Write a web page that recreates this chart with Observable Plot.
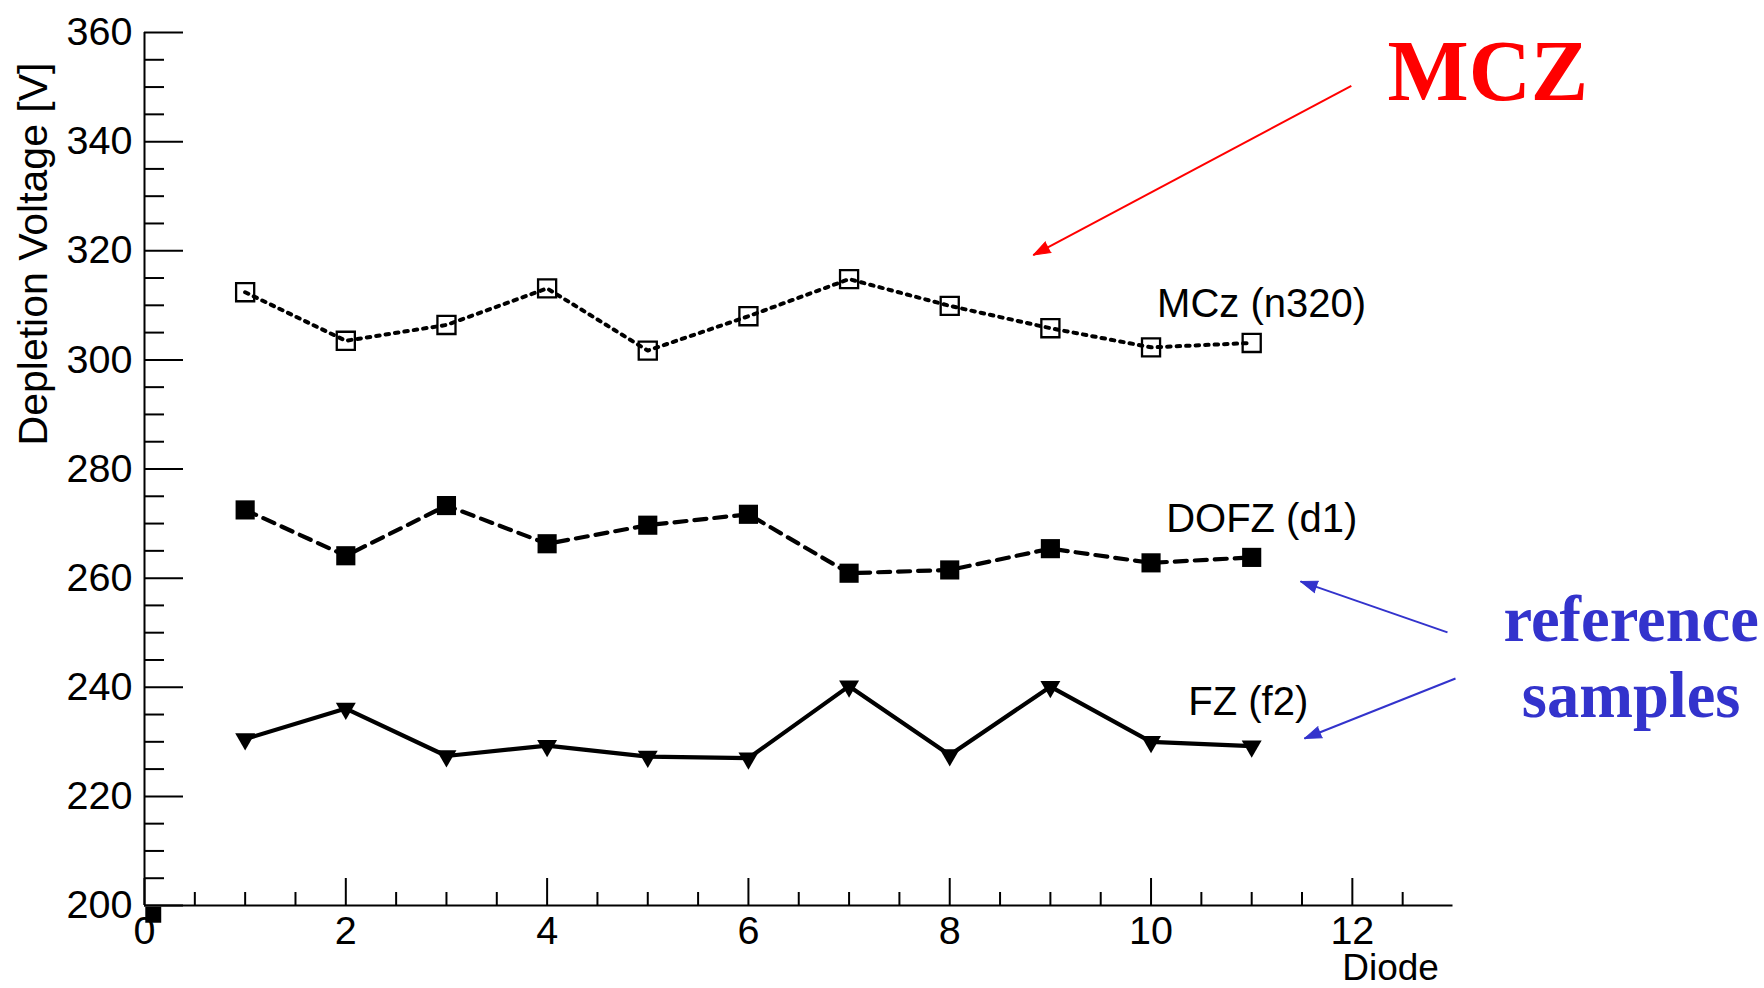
<!DOCTYPE html>
<html>
<head>
<meta charset="utf-8">
<script src="https://cdn.jsdelivr.net/npm/d3@7"></script>
<script src="https://cdn.jsdelivr.net/npm/@observablehq/plot@0.6"></script>
<style>
  html, body { margin: 0; padding: 0; background: #ffffff; }
  svg { display: block; }
</style>
</head>
<body>
<div id="chart"></div>
<script>
// ---------- data ----------
const diodes = [1, 2, 3, 4, 5, 6, 7, 8, 9, 10, 11];
const mczValues  = [312.4, 303.5, 306.4, 313.1, 301.7, 308.0, 314.8, 309.9, 305.8, 302.3, 303.1];
const dofzValues = [272.5, 264.1, 273.3, 266.3, 269.7, 271.7, 260.9, 261.5, 265.4, 262.8, 263.8];
const fzValues   = [230.5, 236.1, 227.4, 229.3, 227.3, 227.0, 240.2, 227.6, 240.1, 230.0, 229.2];

// stray marker sitting at the origin
const strayX = [0.087];
const strayY = [198.3];

// axis ticks
const xTickValues = [0, 2, 4, 6, 8, 10, 12];
const yTickValues = [200, 220, 240, 260, 280, 300, 320, 340, 360];
const xMinorTicks = d3.range(0.5, 13, 0.5).filter(v => v % 2 !== 0);
const yMinorTicks = d3.range(205, 360, 5).filter(v => v % 20 !== 0);

// series labels
const seriesNames  = ["MCz (n320)", "DOFZ (d1)", "FZ (f2)"];
const seriesLabelX = [10.06, 10.15, 10.37];
const seriesLabelY = [310.2, 270.8, 237.3];

// annotations
const mczText = ["MCZ"];
const mczTextX = [12.35];
const mczTextY = [352.7];
const refText = ["reference", "samples"];
const refTextX = [14.77, 14.77];
const refTextY = [252.3, 238.3];

const redArrowX1 = [11.99], redArrowY1 = [350.2], redArrowX2 = [8.83], redArrowY2 = [319.2];
const blueArrowX1 = [12.945, 13.025], blueArrowY1 = [250.05, 241.6];
const blueArrowX2 = [11.485, 11.524], blueArrowY2 = [259.4, 230.6];

// ---------- layout ----------
const W = 1764, H = 988;
const mL = 144, mR = 311.5, mT = 32, mB = 83;
const xDomain = [0, 13], yDomain = [200, 360];
const plotW = W - mL - mR, plotH = H - mT - mB;
const kx = plotW / (xDomain[1] - xDomain[0]);
const ky = plotH / (yDomain[1] - yDomain[0]);

function headAngle(x1, y1, x2, y2) {
  const dxs = (x2 - x1) * kx;
  const dys = -(y2 - y1) * ky;
  return Math.atan2(dxs, -dys) * 180 / Math.PI;
}

function arrowMarks(X1, Y1, X2, Y2, color) {
  const idx = X1.map((_, i) => i);
  return [
    Plot.link(idx, {
      x1: i => X1[i], y1: i => Y1[i], x2: i => X2[i], y2: i => Y2[i],
      stroke: color, strokeWidth: 2
    }),
    Plot.vector(idx, {
      x: i => X2[i], y: i => Y2[i],
      rotate: i => headAngle(X1[i], Y1[i], X2[i], Y2[i]),
      length: 17, r: 6, anchor: "end", shape: "spike",
      fill: color, stroke: color, strokeWidth: 1
    })
  ];
}

const sans = "Liberation Sans, Arial, Helvetica, sans-serif";
const serif = "Liberation Serif, Times New Roman, serif";

const chart = Plot.plot({
  width: W,
  height: H,
  marginLeft: mL,
  marginRight: mR,
  marginTop: mT,
  marginBottom: mB,
  style: { fontFamily: sans, fontSize: "39.5px", background: "#ffffff", color: "#000000" },
  x: { domain: xDomain, ticks: xTickValues, tickSize: 0, tickPadding: 10, label: null },
  y: { domain: yDomain, ticks: yTickValues, tickSize: 0, tickPadding: 12, label: null },
  marks: [
    // axis frame lines
    Plot.ruleX([0], { stroke: "#000", strokeWidth: 2 }),
    Plot.ruleY([200], { stroke: "#000", strokeWidth: 2 }),
    // inward ticks
    Plot.tickY(yTickValues, { y: d => d, insetRight: plotW - 39, stroke: "#000", strokeWidth: 2 }),
    Plot.tickY(yMinorTicks, { y: d => d, insetRight: plotW - 20, stroke: "#000", strokeWidth: 2 }),
    Plot.tickX(xTickValues, { x: d => d, insetTop: plotH - 27, stroke: "#000", strokeWidth: 2 }),
    Plot.tickX(xMinorTicks, { x: d => d, insetTop: plotH - 13, stroke: "#000", strokeWidth: 2 }),

    // series lines
    Plot.line(diodes, { x: d => d, y: (d, i) => mczValues[i], stroke: "#000", strokeWidth: 4, strokeDasharray: "3.5,6" }),
    Plot.line(diodes, { x: d => d, y: (d, i) => dofzValues[i], stroke: "#000", strokeWidth: 4.2, strokeDasharray: "12,8" }),
    Plot.line(diodes, { x: d => d, y: (d, i) => fzValues[i], stroke: "#000", strokeWidth: 4.2 }),

    // markers
    Plot.dot(diodes, { x: d => d, y: (d, i) => mczValues[i], symbol: "square", r: 10.2, stroke: "#000", strokeWidth: 2.3, fill: "none" }),
    Plot.dot(diodes, { x: d => d, y: (d, i) => dofzValues[i], symbol: "square", r: 10.8, fill: "#000", stroke: "none" }),
    Plot.dot(diodes, { x: d => d, y: (d, i) => fzValues[i], symbol: "triangle", rotate: 180, r: 7.4, fill: "#000", stroke: "none" }),
    Plot.dot(strayX, { x: d => d, y: (d, i) => strayY[i], symbol: "square", r: 9, fill: "#000", stroke: "none" }),

    // series labels
    Plot.text(seriesNames, { x: (d, i) => seriesLabelX[i], y: (d, i) => seriesLabelY[i], text: d => d,
      textAnchor: "start", fontSize: 40, fontFamily: sans, fill: "#000" }),

    // axis titles
    Plot.text(["Depletion Voltage [V]"], { x: () => 0, y: () => 354.5, text: d => d, dx: -111, rotate: -90,
      textAnchor: "end", fontSize: 41, fontFamily: sans, fill: "#000" }),
    Plot.text(["Diode"], { x: () => 12.86, y: () => 188.45, text: d => d,
      textAnchor: "end", fontSize: 37, fontFamily: sans, fill: "#000" }),

    // annotations
    ...arrowMarks(redArrowX1, redArrowY1, redArrowX2, redArrowY2, "#ff0000"),
    ...arrowMarks(blueArrowX1, blueArrowY1, blueArrowX2, blueArrowY2, "#3333cc"),
    Plot.text(mczText, { x: (d, i) => mczTextX[i], y: (d, i) => mczTextY[i], text: d => d,
      textAnchor: "start", fontSize: 86, fontWeight: "bold", fontFamily: serif, fill: "#ff0000" }),
    Plot.text(refText, { x: (d, i) => refTextX[i], y: (d, i) => refTextY[i], text: d => d,
      textAnchor: "middle", fontSize: 64.5, fontWeight: "bold", fontFamily: serif, fill: "#3333cc" })
  ]
});

document.getElementById("chart").appendChild(chart);
</script>
</body>
</html>
